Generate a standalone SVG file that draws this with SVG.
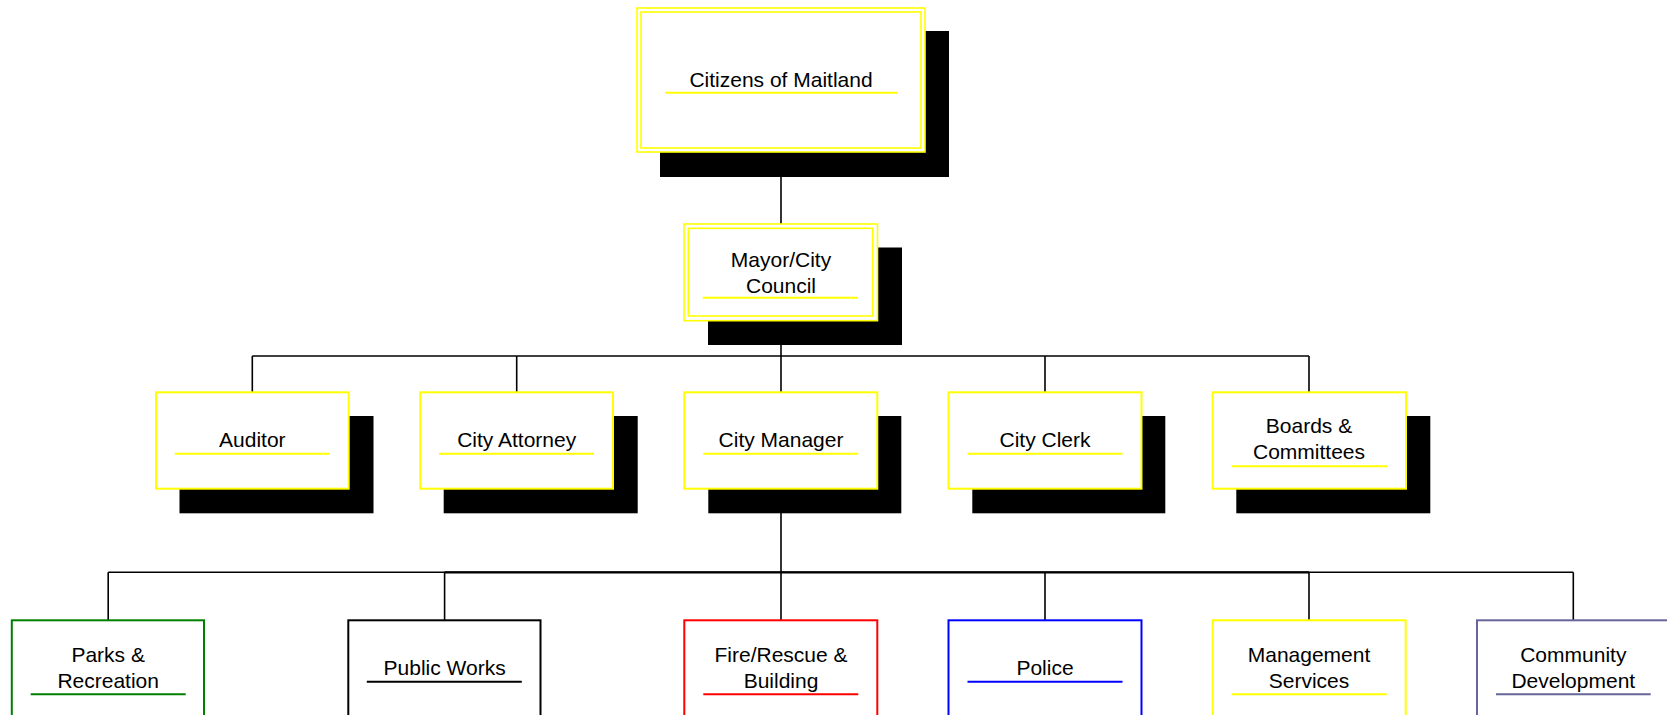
<svg xmlns="http://www.w3.org/2000/svg" width="1667" height="715" viewBox="0 0 1667 715">
<style>
.bg{fill:#ffffff}
.sh{fill:#000000}
.wf{fill:#ffffff}
.box{fill:#ffffff;stroke-width:2}
.dbl{fill:none;stroke:#ffff00;stroke-width:1.6}
.ul{stroke-width:2}
.t{font-family:"Liberation Sans",Arial,sans-serif;font-size:21px;fill:#000000;text-anchor:middle}
.c{stroke:#000000;stroke-width:1.6;fill:none}
.y{stroke:#ffff00}
</style>
<rect class="bg" x="0" y="0" width="1667" height="715"/>
<g id="connectors">
<line class="c" x1="781" y1="152" x2="781" y2="224"/>
<line class="c" x1="781" y1="320" x2="781" y2="356"/>
<line class="c" x1="252.3" y1="356" x2="1309" y2="356"/>
<line class="c" x1="252.3" y1="356" x2="252.3" y2="392.3"/>
<line class="c" x1="516.7" y1="356" x2="516.7" y2="392.3"/>
<line class="c" x1="781" y1="356" x2="781" y2="392.3"/>
<line class="c" x1="1045" y1="356" x2="1045" y2="392.3"/>
<line class="c" x1="1309" y1="356" x2="1309" y2="392.3"/>
<line class="c" x1="781" y1="488.7" x2="781" y2="572.3"/>
<line class="c" x1="108.2" y1="572.3" x2="1573.3" y2="572.3"/>
<line class="c" x1="444.6" y1="572.3" x2="1309" y2="572.3" style="stroke-width:2.2"/>
<line class="c" x1="108.2" y1="572.3" x2="108.2" y2="620.3"/>
<line class="c" x1="444.6" y1="572.3" x2="444.6" y2="620.3"/>
<line class="c" x1="781" y1="572.3" x2="781" y2="620.3"/>
<line class="c" x1="1045" y1="572.3" x2="1045" y2="620.3"/>
<line class="c" x1="1309" y1="572.3" x2="1309" y2="620.3"/>
<line class="c" x1="1573.3" y1="572.3" x2="1573.3" y2="620.3"/>
</g>
<g id="citizens">
<rect class="sh" x="660" y="31" width="289" height="146"/>
<rect class="wf" x="637" y="8" width="288" height="144"/>
<rect class="dbl" x="637" y="8" width="288" height="144"/>
<rect class="dbl" x="641" y="12" width="280" height="136"/>
<text class="t" x="781" y="87">Citizens of Maitland</text>
<line class="ul y" x1="665" y1="92.7" x2="897" y2="92.7"/>
</g>
<g id="mayor">
<rect class="sh" x="708" y="247.5" width="194" height="97.5"/>
<rect class="wf" x="684" y="224" width="193.5" height="96.7"/>
<rect class="dbl" x="684" y="224" width="193.5" height="96.7"/>
<rect class="dbl" x="688.3" y="228.3" width="184.5" height="87.7"/>
<text class="t" x="781" y="266.7">Mayor/City</text>
<text class="t" x="781" y="292.5">Council</text>
<line class="ul y" x1="702.7" y1="297.7" x2="858" y2="297.7"/>
</g>
<g id="auditor">
<rect class="sh" x="179.5" y="416" width="194" height="97.3"/>
<rect class="box" stroke="#ffff00" x="156" y="392.3" width="192.7" height="96.4"/>
<text class="t" x="252.3" y="446.7">Auditor</text>
<line class="ul y" x1="174.7" y1="453.7" x2="329.7" y2="453.7"/>
</g>
<g id="city-attorney">
<rect class="sh" x="443.7" y="416" width="194" height="97.3"/>
<rect class="box" stroke="#ffff00" x="420.3" y="392.3" width="192.7" height="96.4"/>
<text class="t" x="516.7" y="446.7">City Attorney</text>
<line class="ul y" x1="439" y1="453.7" x2="594" y2="453.7"/>
</g>
<g id="city-manager">
<rect class="sh" x="708.3" y="416" width="193" height="97.3"/>
<rect class="box" stroke="#ffff00" x="684.3" y="392.3" width="193" height="96.4"/>
<text class="t" x="781" y="446.7">City Manager</text>
<line class="ul y" x1="703.3" y1="453.7" x2="858.3" y2="453.7"/>
</g>
<g id="city-clerk">
<rect class="sh" x="972.3" y="416" width="193" height="97.3"/>
<rect class="box" stroke="#ffff00" x="948.5" y="392.3" width="193" height="96.4"/>
<text class="t" x="1045" y="446.7">City Clerk</text>
<line class="ul y" x1="967.5" y1="453.7" x2="1122.5" y2="453.7"/>
</g>
<g id="boards">
<rect class="sh" x="1236.3" y="416" width="194" height="97.3"/>
<rect class="box" stroke="#ffff00" x="1212.7" y="392.3" width="193.3" height="96.4"/>
<text class="t" x="1309" y="433.3">Boards &amp;</text>
<text class="t" x="1309" y="459.3">Committees</text>
<line class="ul y" x1="1231.7" y1="466.3" x2="1387" y2="466.3"/>
</g>
<g id="parks">
<rect class="box" stroke="#008000" x="11.8" y="620.3" width="192.2" height="120"/>
<text class="t" x="108.2" y="661.7">Parks &amp;</text>
<text class="t" x="108.2" y="687.7">Recreation</text>
<line class="ul" stroke="#008000" x1="30.7" y1="694.3" x2="185.7" y2="694.3"/>
</g>
<g id="public-works">
<rect class="box" stroke="#000000" x="348.3" y="620.3" width="192.2" height="120"/>
<text class="t" x="444.6" y="675">Public Works</text>
<line class="ul" stroke="#000000" x1="366.8" y1="681.7" x2="521.8" y2="681.7"/>
</g>
<g id="fire">
<rect class="box" stroke="#ff0000" x="684.3" y="620.3" width="193" height="120"/>
<text class="t" x="781" y="661.7">Fire/Rescue &amp;</text>
<text class="t" x="781" y="687.7">Building</text>
<line class="ul" stroke="#ff0000" x1="703.3" y1="694.3" x2="858.3" y2="694.3"/>
</g>
<g id="police">
<rect class="box" stroke="#0000ff" x="948.5" y="620.3" width="193" height="120"/>
<text class="t" x="1045" y="675">Police</text>
<line class="ul" stroke="#0000ff" x1="967.5" y1="681.7" x2="1122.5" y2="681.7"/>
</g>
<g id="management">
<rect class="box" stroke="#ffff00" x="1212.7" y="620.3" width="193" height="120"/>
<text class="t" x="1309" y="661.7">Management</text>
<text class="t" x="1309" y="687.7">Services</text>
<line class="ul" stroke="#ffff00" x1="1231.7" y1="694.3" x2="1386.7" y2="694.3"/>
</g>
<g id="community">
<rect class="box" stroke="#666699" x="1477" y="620.3" width="193" height="120"/>
<text class="t" x="1573.3" y="661.7">Community</text>
<text class="t" x="1573.3" y="687.7">Development</text>
<line class="ul" stroke="#666699" x1="1496" y1="694.3" x2="1650.7" y2="694.3"/>
</g>
</svg>
